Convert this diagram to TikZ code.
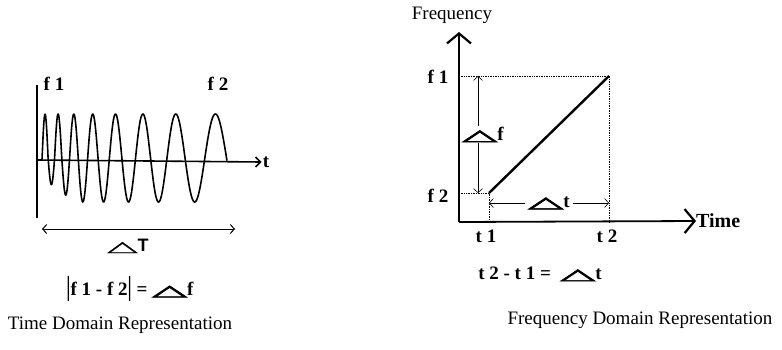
\documentclass[tikz,border=0pt]{standalone}
\usepackage{fontspec}
\setmainfont{Liberation Serif}
\setsansfont{Liberation Sans}
\newfontfamily\symfont[FakeBold=3]{DejaVu Sans}
\newfontfamily\symthin[FakeBold=1]{DejaVu Sans}
\usepackage{graphicx}
\usetikzlibrary{arrows.meta,positioning}
\newcommand{\tri}{\scalebox{2.4}[0.8]{\symfont △}}
\newcommand{\thintri}{\scalebox{2.2}[0.8]{\symthin △}}
\begin{document}
\begin{tikzpicture}[x=1pt,y=-1pt,
  lbl/.style={font=\fontsize{19}{19}\selectfont\bfseries,inner sep=1pt},
  captext/.style={font=\fontsize{19}{19}\selectfont,inner sep=0pt},
  axis/.style={line width=1.6pt},
  bigaxis/.style={line width=1.8pt,-{Straight Barb[length=10pt,width=24pt,line width=2.2pt]}},
  wave/.style={line width=1.6pt,line join=round},
  dim/.style={line width=0.6pt,{Straight Barb[length=4pt,width=9pt]}-{Straight Barb[length=4pt,width=9pt]}},
  guide/.style={densely dotted,line width=0.7pt}]
\useasboundingbox (0,0) rectangle (782,349);
\coordinate (ltop) at (37,85);
\coordinate (lbot) at (37,218);
\coordinate (lo) at (37,160);
\node[lbl] (tlab) at (266,162) {t};
\node[lbl] (f1l) at (54,84) {f 1};
\node[lbl] (f2l) at (218,84) {f 2};
\draw[axis] (ltop) -- (lbot);
\draw[axis,-{Straight Barb[length=5pt,width=10pt]}] (lo) -- (tlab.west);
\draw[wave] plot[domain=42:227,samples=400]
  (\x,{158-44*sin(1946*ln(3.56+0.185*\x)-48)*ifthenelse(sin(1946*ln(3.56+0.185*\x)-48)>0,1,min(1,0.5+max(0,\x-45)/60))});
\coordinate (dTl) at (42,229);
\coordinate (dTr) at (235,229);
\draw[dim,line width=1pt] (dTl) -- (dTr);
\node[inner sep=0pt,font=\fontsize{18}{18}\selectfont] (dT) at (128,246) {\thintri\sffamily\bfseries T};
\node[lbl] (eqL) at (130,289) {\scalebox{1}[1.45]{|}f 1 - f 2\scalebox{1}[1.45]{|} = \tri f};
\node[captext] (capL) at (120,325) {Time Domain Representation};
\coordinate (o) at (459,222);
\coordinate (ytop) at (459,32);
\node[font=\fontsize{19}{19}\selectfont,inner sep=0pt] (freq) at (452,15) {Frequency};
\node[lbl,font=\fontsize{20}{20}\selectfont\bfseries,anchor=west,inner sep=0pt] (time) at (696,221) {Time};
\draw[bigaxis] (o) -- (ytop);
\draw[bigaxis] (o) -- (time.west);
\coordinate (p1) at (609,76);
\coordinate (p2) at (489,193);
\coordinate (a1) at (459,76);
\coordinate (a2) at (459,193);
\coordinate (b1) at (489,222);
\coordinate (b2) at (609,222);
\draw[guide] (a1) -- (p1) -- (b2);
\draw[guide] (a2) -- (p2) -- (b1);
\draw[line width=2.4pt] (p2) -- (p1);
\node[lbl] (f1r) at (438,77) {f 1};
\node[lbl] (f2r) at (438,196) {f 2};
\node[lbl] (t1) at (486,236) {t 1};
\node[lbl] (t2) at (607,236) {t 2};
\coordinate (df1) at (478,76);
\coordinate (df2) at (478,193);
\draw[dim] (df1) -- node[lbl,fill=white,xshift=5pt] (dflab) {\tri f} (df2);
\coordinate (dt1) at (489,203);
\coordinate (dt2) at (609,203);
\draw[dim] (dt1) -- node[lbl,fill=white,inner sep=3pt] (dtlab) {\tri t} (dt2);
\node[lbl] (eqR) at (540,274) {t 2 - t 1 = \ \tri t};
\node[captext] (capR) at (640,320) {Frequency Domain Representation};
\end{tikzpicture}
\end{document}
